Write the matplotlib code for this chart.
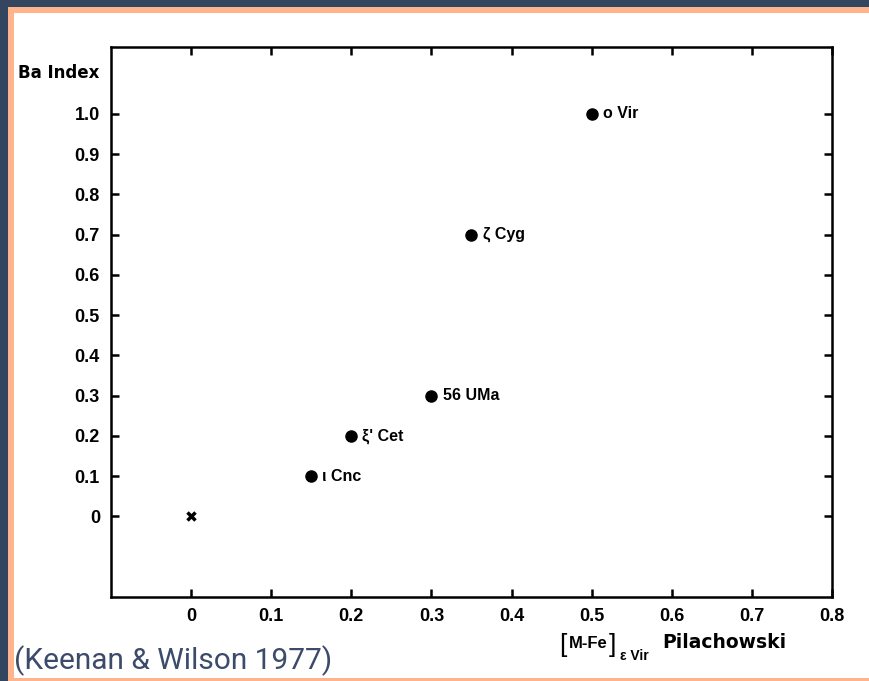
import matplotlib
matplotlib.use('Agg')
import matplotlib.pyplot as plt
from matplotlib.patches import Rectangle

# data
stars = ['\u03bf Vir', '\u03b6 Cyg', '56 UMa', "\u03be' Cet", '\u03b9 Cnc']
m_fe = [0.50, 0.35, 0.30, 0.20, 0.15]
ba_index = [1.0, 0.7, 0.3, 0.2, 0.1]
ref_x = [0.0]
ref_y = [0.0]

xticks = [0, 0.1, 0.2, 0.3, 0.4, 0.5, 0.6, 0.7, 0.8]
xticklabels = ['0', '0.1', '0.2', '0.3', '0.4', '0.5', '0.6', '0.7', '0.8']
yticks = [0, 0.1, 0.2, 0.3, 0.4, 0.5, 0.6, 0.7, 0.8, 0.9, 1.0]
yticklabels = ['0', '0.1', '0.2', '0.3', '0.4', '0.5', '0.6', '0.7', '0.8', '0.9', '1.0']

W, H = 870, 681
dark = '#344560'
peach = '#ffb48e'
slate = '#3b4b69'

fig = plt.figure(figsize=(W / 100, H / 100), dpi=100)
fig.patch.set_facecolor(dark)
# peach frame and white card
fig.patches.append(Rectangle((8 / W, 0), 1, 1 - 7 / H, transform=fig.transFigure,
                             facecolor=peach, edgecolor='none', zorder=-2))
fig.patches.append(Rectangle((14 / W, 3 / H), 1, 1 - 16 / H, transform=fig.transFigure,
                             facecolor='white', edgecolor='none', zorder=-1))

ax = fig.add_axes([111 / W, 1 - 597 / H, 721 / W, 550 / H])
ax.set_facecolor('white')

font = 'Liberation Sans'
ax.plot(m_fe, ba_index, 'o', color='black', markersize=8)
ax.plot(ref_x, ref_y, 'x', color='black', markersize=6, markeredgewidth=2.5)

for name, x, y in zip(stars, m_fe, ba_index):
    ax.annotate(name, (x, y), xytext=(8, 0), textcoords='offset points',
                va='center', ha='left', fontsize=11.5, fontweight='bold', family=font)

ax.set_xlim(-0.1, 0.8)
ax.set_ylim(-0.2, 1.166)
ax.set_xticks(xticks)
ax.set_xticklabels(xticklabels)
ax.set_yticks(yticks)
ax.set_yticklabels(yticklabels)
ax.tick_params(direction='in', length=6, width=1.8, top=True, right=True,
               labelsize=13, pad=8)
for lab in ax.get_xticklabels() + ax.get_yticklabels():
    lab.set_fontweight('bold')
    lab.set_family(font)
for sp in ax.spines.values():
    sp.set_linewidth(1.8)

# axis titles
fig.text(99 / W, 1 - 73 / H, 'Ba Index', ha='right', va='center',
         fontsize=12, fontweight='bold', family='DejaVu Sans')
fig.text(559 / W, 1 - 645 / H, '[', ha='left', va='center', fontsize=19, family=font)
fig.text(569 / W, 1 - 644 / H, 'M-Fe', ha='left', va='center',
         fontsize=12, fontweight='bold', family=font)
fig.text(609 / W, 1 - 645 / H, ']', ha='left', va='center', fontsize=19, family=font)
fig.text(620 / W, 1 - 656 / H, '\u03b5 Vir', ha='left', va='center',
         fontsize=10, fontweight='bold', family=font)
fig.text(662 / W, 1 - 643 / H, 'Pilachowski', ha='left', va='center',
         fontsize=13.5, fontweight='bold', family='DejaVu Sans')

fig.text(14 / W, 1 - 661 / H, '(Keenan & Wilson 1977)', ha='left', va='center',
         fontsize=21.5, color=slate, family='Roboto')

fig.savefig('out.png', dpi=100, facecolor=fig.get_facecolor())
